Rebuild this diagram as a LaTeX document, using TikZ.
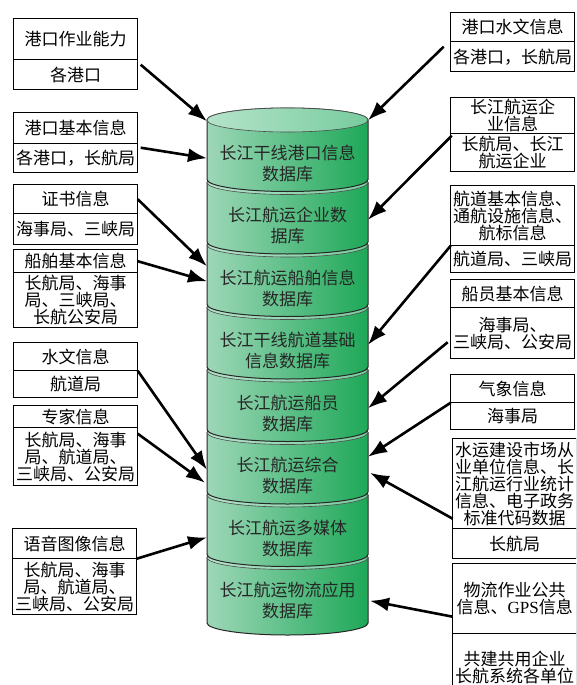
\documentclass[tikz,border=0pt]{standalone}
\usepackage{fontspec}
\setmainfont{Noto Sans CJK SC}
\newfontfamily\gpsfont{Liberation Serif}
\usepackage{tikz}
\usetikzlibrary{matrix,arrows.meta,calc}

\definecolor{dbleft}{RGB}{158,215,184}
\definecolor{dbright}{RGB}{30,168,88}
\definecolor{rimleft}{RGB}{180,227,202}
\definecolor{rimright}{RGB}{120,204,158}

\lineskiplimit=-20pt

\tikzset{
    infobox/.style={matrix of nodes, inner sep=0pt, outer sep=0pt, row sep=-1.4pt, anchor=north west,
        nodes={rectangle, draw, line width=1.4pt, fill=white, text width=122pt, inner xsep=1pt, inner ysep=0pt,
            align=center, font=\fontsize{17}{17}\selectfont}},
    dbtext/.style={minimum width=161pt, inner sep=0pt, outer sep=0pt, align=center, text=black!85,
        font=\fontsize{17}{21}\selectfont},
    feed/.style={-{Latex[length=19pt,width=14pt]}, line width=2.6pt},
}

\begin{document}
\begin{tikzpicture}[x=1pt, y=-1pt]

    \useasboundingbox (0,0) rectangle (576,685);
    \clip (0,0) rectangle (576,685);

    % database cylinder, stacked from the bottom up
    \foreach \j in {8,7,...,1}{
        \pgfmathsetmacro{\ptop}{120+62.5*(\j-1)}
        \pgfmathsetmacro{\pbot}{ifthenelse(\j==8,623,\ptop+59.5)}
        \path[left color=dbleft, right color=dbright, draw=black!85, line width=1pt]
            (207,\ptop) -- (207,\pbot) arc[start angle=180, end angle=0, x radius=80.5, y radius=12]
            -- (368,\ptop) arc[start angle=0, end angle=-180, x radius=80.5, y radius=12] -- cycle;
        \path[left color=rimleft, right color=rimright, draw=black!70, line width=0.6pt]
            (287.5,\ptop) ellipse [x radius=80.5, y radius=12];
    }

    \node (s1) [dbtext] at (287.5,163.25) {长江干线港口信息\\数据库};
    \node (s2) [dbtext] at (287.5,225.75) {长江航运企业数\\据库};
    \node (s3) [dbtext] at (287.5,288.25) {长江航运船舶信息\\数据库};
    \node (s4) [dbtext] at (287.5,350.75) {长江干线航道基础\\信息数据库};
    \node (s5) [dbtext] at (287.5,413.25) {长江航运船员\\数据库};
    \node (s6) [dbtext] at (287.5,475.75) {长江航运综合\\数据库};
    \node (s7) [dbtext] at (287.5,538.25) {长江航运多媒体\\数据库};
    \node (s8) [dbtext] at (287.5,600.75) {长江航运物流应用\\数据库};

    % left sources
    \matrix (lp1) [infobox, row 1/.style={nodes={minimum height=41pt}}, row 2/.style={nodes={minimum height=30pt}}] at (13,18) {
        港口作业能力 \\
        各港口 \\
    };
    \matrix (lp2) [infobox, row 1/.style={nodes={minimum height=31pt}}, row 2/.style={nodes={minimum height=29pt}}] at (13,112) {
        港口基本信息 \\
        各港口，长航局 \\
    };
    \matrix (lp3) [infobox, row 1/.style={nodes={minimum height=29pt}}, row 2/.style={nodes={minimum height=31pt}}] at (13,184) {
        证书信息 \\
        海事局、三峡局 \\
    };
    \matrix (lp4) [infobox, row 1/.style={nodes={minimum height=23pt}}, row 2/.style={nodes={minimum height=55pt}}] at (13,249) {
        船舶基本信息 \\
        {长航局、海事\\局、三峡局、\\长航公安局} \\
    };
    \matrix (lp5) [infobox, row 1/.style={nodes={minimum height=28pt}}, row 2/.style={nodes={minimum height=27pt}}] at (13,342) {
        水文信息 \\
        航道局 \\
    };
    \matrix (lp6) [infobox, row 1/.style={nodes={minimum height=22pt}}, row 2/.style={nodes={minimum height=58pt}}] at (13,405) {
        专家信息 \\
        {长航局、海事\\局、航道局、\\三峡局、公安局} \\
    };
    \matrix (lp7) [infobox, row 1/.style={nodes={minimum height=30pt}}, row 2/.style={nodes={minimum height=56pt}}] at (12,528) {
        语音图像信息 \\
        {长航局、海事\\局、航道局、\\三峡局、公安局} \\
    };

    % right sources
    \matrix (rp1) [infobox, row 1/.style={nodes={minimum height=29pt}}, row 2/.style={nodes={minimum height=30pt}}] at (450,12) {
        港口水文信息 \\
        各港口，长航局 \\
    };
    \matrix (rp2) [infobox, row 1/.style={nodes={minimum height=36pt}}, row 2/.style={nodes={minimum height=38pt}}] at (450,97) {
        {长江航运企\\业信息} \\
        {长航局、长江\\航运企业} \\
    };
    \matrix (rp3) [infobox, row 1/.style={nodes={minimum height=60pt}}, row 2/.style={nodes={minimum height=27pt}}] at (450,185) {
        {航道基本信息、\\通航设施信息、\\航标信息} \\
        航道局、三峡局 \\
    };
    \matrix (rp4) [infobox, row 1/.style={nodes={minimum height=28pt}}, row 2/.style={nodes={minimum height=51pt}}] at (450,279) {
        船员基本信息 \\
        {海事局、\\三峡局、公安局} \\
    };
    \matrix (rp5) [infobox, row 1/.style={nodes={minimum height=28pt}}, row 2/.style={nodes={minimum height=27pt}}] at (450,374) {
        气象信息 \\
        海事局 \\
    };
    \matrix (rp6) [infobox, row 1/.style={nodes={minimum height=90pt}}, row 2/.style={nodes={minimum height=30pt}}] at (452,438) {
        {水运建设市场从\\业单位信息、长\\江航运行业统计\\信息、电子政务\\标准代码数据} \\
        长航局 \\
    };
    \matrix (rp7) [infobox, row 1/.style={nodes={minimum height=70pt}}, row 2/.style={nodes={minimum height=67pt}}] at (452,563) {
        {物流作业公共\\信息、{\gpsfont GPS}信息} \\
        {共建共用企业\\长航系统各单位} \\
    };

    % feeds into the database
    \draw[feed] ($(lp1-2-1.north east)+(3,5)$) -- ($(s1.west)+(0,-42)$);
    \draw[feed] ($(lp2-2-1.north east)+(3,4)$) -- ($(s1.west)+(0,-5)$);
    \draw[feed] (lp3-1-1.east) -- ($(s3.west)+(0,-22)$);
    \draw[feed] (lp4-1-1.east) -- ($(s3.west)+(0,-7)$);
    \draw[feed] (lp5-2-1.north east) -- ($(s6.west)+(0,-6)$);
    \draw[feed] ($(lp6-2-1.north east)+(0,6)$) -- ($(s6.west)+(-2,7)$);
    \draw[feed] (lp7-2-1.north east) -- ($(s7.west)+(0,-1)$);

    \draw[feed] ($(rp1-2-1.north west)+(-7,5)$) -- ($(s1.east)+(0,-43)$);
    \draw[feed] ($(rp2-2-1.north west)+(1,2)$) -- ($(s2.east)+(0,-6)$);
    \draw[feed] (rp3-2-1.north west) -- ($(s4.east)+(0,-6)$);
    \draw[feed] ($(rp4-2-1.west)+(-3,9)$) -- ($(s5.east)+(0,-5)$);
    \draw[feed] (rp5-2-1.north west) -- ($(s6.east)+(0,-19)$);
    \draw[feed] ($(rp6-1-1.south west)+(0,-10)$) -- ($(s6.east)+(2,-3)$);
    \draw[feed] ($(rp7-1-1.south west)+(0,-17)$) -- ($(s8.east)+(2,0)$);

\end{tikzpicture}
\end{document}
